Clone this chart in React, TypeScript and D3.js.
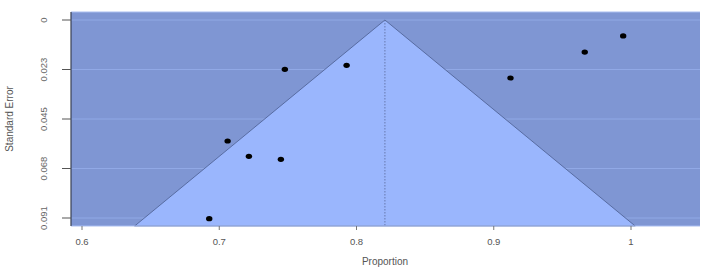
import React from "react";
import * as d3 from "d3";

const proportions = [0.7478, 0.7928, 0.7061, 0.7216, 0.7449, 0.6927, 0.9122, 0.9663, 0.9943];
const standardErrors = [0.0226, 0.0208, 0.0555, 0.0625, 0.0639, 0.0911, 0.0266, 0.0147, 0.0073];
const pooled = 0.8207;
const xTicks = [0.6, 0.7, 0.8, 0.9, 1];
const yTicks = [0, 0.0227, 0.0454, 0.0681, 0.0908];
const yTickLabels = ["0", "0.023", "0.045", "0.068", "0.091"];

export default function App() {
  const W = 707, H = 270;
  const left = 71, right = 700, top = 12, bottom = 226;
  const x = d3.scaleLinear().domain([0.6, 1]).range([82, 631]);
  const y = d3.scaleLinear().domain([0, 0.0908]).range([20, 218]);
  const seBottom = y.invert(bottom);
  const z = 1.93;
  const funnel = [
    [x(pooled - z * seBottom), bottom],
    [x(pooled), y(0)],
    [x(pooled + z * seBottom), bottom],
  ];
  const line = d3.line();
  const font = "Liberation Sans, Arial, sans-serif";
  return (
    <svg width={W} height={H} style={{ position: "absolute", left: 0, top: 0 }}>
      <rect x={0} y={0} width={W} height={H} fill="#fff" />
      <rect x={left} y={top} width={right - left} height={bottom - top} fill="#7f96d3" />
      {yTicks.map((t, i) => (
        <line key={i} x1={left} x2={right} y1={y(t)} y2={y(t)} stroke="#91a9e6" strokeWidth={1} />
      ))}
      <path d={line(funnel as any) + "Z"} fill="#9ab6fd" stroke="#4a5d8f" strokeWidth={0.8} />
      <line x1={x(pooled)} x2={x(pooled)} y1={y(0)} y2={bottom} stroke="#5a6a99" strokeWidth={0.8} strokeDasharray="1.5,1.5" />
      <line x1={left} x2={right} y1={top} y2={top} stroke="#a9bdf0" strokeWidth={1} />
      <line x1={left} x2={right} y1={bottom} y2={bottom} stroke="#a9bdf0" strokeWidth={1} />
      <line x1={left} x2={left} y1={top} y2={bottom} stroke="#3a4152" strokeWidth={1.2} />
      {proportions.map((p, i) => (
        <ellipse key={i} cx={x(p)} cy={y(standardErrors[i])} rx={3.2} ry={2.6} fill="#000" />
      ))}
      {yTicks.map((t, i) => (
        <g key={i}>
          <line x1={62} x2={left} y1={y(t)} y2={y(t)} stroke="#555" strokeWidth={1} />
          <text
            transform={`translate(${44},${y(t)}) rotate(-90)`}
            textAnchor="middle"
            fontFamily={font}
            fontSize={9.5}
            fill="#666"
            dy="0.35em"
          >
            {yTickLabels[i]}
          </text>
        </g>
      ))}
      {xTicks.map((t, i) => (
        <g key={i}>
          <line x1={x(t)} x2={x(t)} y1={bottom} y2={bottom + 4} stroke="#777" strokeWidth={1} />
          <text x={x(t)} y={245} textAnchor="middle" fontFamily={font} fontSize={9.5} fill="#555">
            {String(t)}
          </text>
        </g>
      ))}
      <text x={385} y={265} textAnchor="middle" fontFamily={font} fontSize={10} fill="#555">
        Proportion
      </text>
      <text
        transform={`translate(${9},${119}) rotate(-90)`}
        textAnchor="middle"
        fontFamily={font}
        fontSize={10}
        fill="#555"
        dy="0.35em"
      >
        Standard Error
      </text>
    </svg>
  );
}
